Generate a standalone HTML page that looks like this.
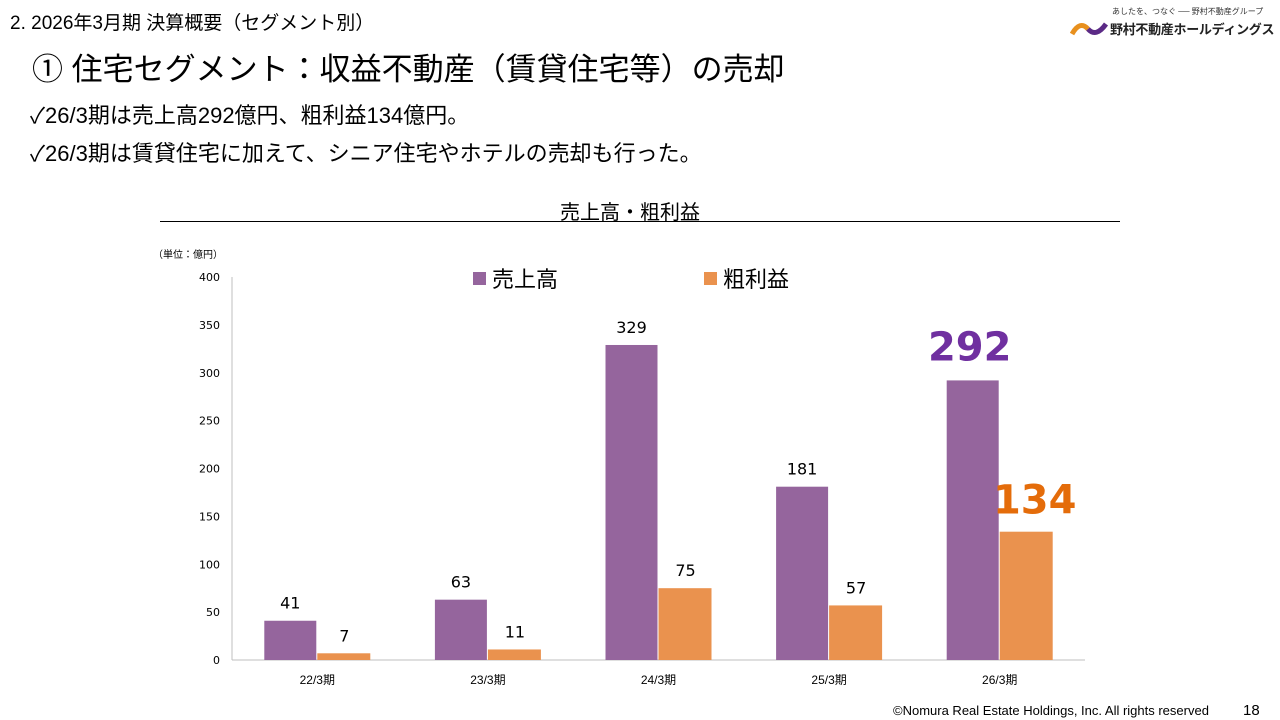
<!DOCTYPE html>
<html><head><meta charset="utf-8"><style>
body{margin:0;width:1280px;height:720px;background:#fff;font-family:"Liberation Sans","Noto Sans CJK JP",sans-serif;position:relative;overflow:hidden;color:#000}
.a{position:absolute;white-space:nowrap}
</style></head><body>
<div class="a" style="left:10px;top:8px;font-size:19px">2. 2026年3月期 決算概要（セグメント別）</div>
<div class="a" style="left:1070px;top:6px;width:200px;height:32px">
<div class="a" style="left:42px;top:0;font-size:8px;color:#333">あしたを、つなぐ ── 野村不動産グループ</div>
<svg class="a" style="left:0;top:14px" width="40" height="18"><path d="M2 14 Q10 0 18 9" stroke="#e8901e" stroke-width="5" fill="none"/><path d="M18 9 Q26 18 36 4" stroke="#5b2a86" stroke-width="5" fill="none"/></svg>
<div class="a" style="left:40px;top:13px;font-size:13px;font-weight:bold;color:#222;letter-spacing:-0.3px">野村不動産ホールディングス</div></div>
<div class="a" style="left:32px;top:44px;font-size:31px">① 住宅セグメント：収益不動産（賃貸住宅等）の売却</div>
<div class="a" style="left:30px;top:98px;font-size:22px">✓26/3期は売上高292億円、粗利益134億円。</div>
<div class="a" style="left:30px;top:136px;font-size:22px">✓26/3期は賃貸住宅に加えて、シニア住宅やホテルの売却も行った。</div>
<div class="a" style="left:560px;top:196px;font-size:20px">売上高・粗利益</div>
<div class="a" style="left:160px;top:221px;width:960px;height:1px;background:#000"></div>
<div class="a" style="left:153px;top:246px;font-size:10px">（単位：億円）</div>
<svg id="c" class="a" style="left:0;top:0" width="1280" height="720"></svg>
<div class="a" style="left:893px;top:703px;font-size:13px">©Nomura Real Estate Holdings, Inc. All rights reserved</div>
<div class="a" style="left:1243px;top:702px;font-size:15px">18</div>
<script>
const categories=["22/3期","23/3期","24/3期","25/3期","26/3期"];
const sales=[41,63,329,181,292];
const profit=[7,11,75,57,134];
const yTicks=[0,50,100,150,200,250,300,350,400];
const svg=document.getElementById('c');const NS='http://www.w3.org/2000/svg';
const x0=232,x1=1085,yb=660,yt=277,ymax=400;
const y=v=>yb-(v/ymax)*(yb-yt);
const bw=(x1-x0)/categories.length;
const NF='"DejaVu Sans","Liberation Sans",sans-serif';
function mk(t,a,txt){const e=document.createElementNS(NS,t);for(const k in a)e.setAttribute(k,a[k]);if(txt!=null)e.textContent=txt;svg.appendChild(e);return e;}
let e=mk('line',{x1:x0,y1:yt,x2:x0,y2:yb,stroke:'#bfbfbf'});


e=mk('line',{x1:x0,y1:yb,x2:x1,y2:yb,stroke:'#bfbfbf'});


yTicks.forEach(t=>{e=mk('text',{x:220,y:y(t)+4,'text-anchor':'end','font-size':11,'font-family':NF},t);

});
categories.forEach((c,i)=>{const cx=x0+bw*(i+0.5);const last=i===categories.length-1;
e=mk('rect',{x:cx-53,y:y(sales[i]),width:52,height:yb-y(sales[i]),fill:'#95659d'});


e=mk('rect',{x:cx,y:y(profit[i]),width:53,height:yb-y(profit[i]),fill:'#ea924e'});


if(last){e=mk('text',{x:cx-30,y:y(sales[i])-20,'text-anchor':'middle','font-size':40,'font-weight':'bold',fill:'#7030a0','font-family':NF},sales[i]);}
else e=mk('text',{x:cx-27,y:y(sales[i])-12,'text-anchor':'middle','font-size':16,'font-family':NF},sales[i]);


if(last){e=mk('text',{x:cx+35,y:y(profit[i])-18,'text-anchor':'middle','font-size':40,'font-weight':'bold',fill:'#e46c0a','font-family':NF},profit[i]);}
else e=mk('text',{x:cx+27,y:y(profit[i])-12,'text-anchor':'middle','font-size':16,'font-family':NF},profit[i]);


e=mk('text',{x:cx,y:684,'text-anchor':'middle','font-size':12},c);

});
e=mk('rect',{x:473,y:272,width:13,height:13,fill:'#95659d'});


e=mk('text',{x:492,y:287,'font-size':22},'売上高');


e=mk('rect',{x:704,y:272,width:13,height:13,fill:'#ea924e'});


e=mk('text',{x:723,y:287,'font-size':22},'粗利益');


</script>
</body></html>
